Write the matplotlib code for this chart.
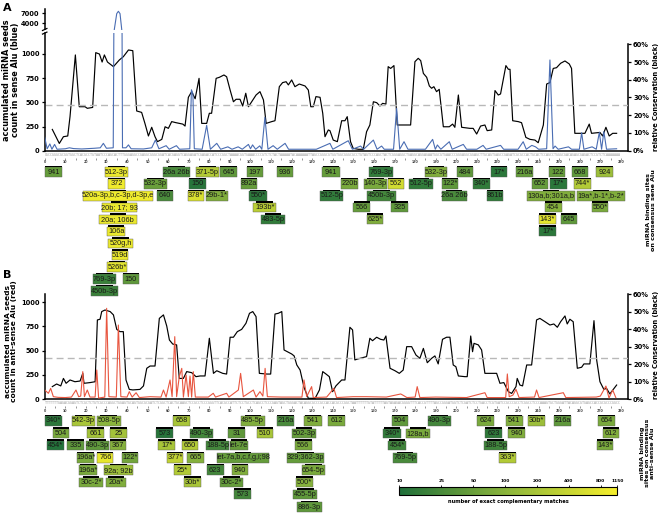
import matplotlib
matplotlib.use("Agg")
import matplotlib.pyplot as plt
from matplotlib.cm import ScalarMappable
from matplotlib.colors import LinearSegmentedColormap, LogNorm
from matplotlib.lines import Line2D
from matplotlib.patches import Rectangle
from matplotlib.ticker import NullLocator

plt.rcParams["font.family"] = ["DejaVu Sans"]
plt.rcParams["font.weight"] = "bold"

# ---------------------------------------------------------------- data
ALU_SENSE = ("GGCCGGGCGCGGTGGCTCACGCCTGTAATCCCAGCACTTTGGGAGGCCGAGGCGGGCGGATCACGAGGTCAGGAG"
             "ATCGAGACCATCCCGGCTAAAACGGTGAAACCCCGTCTCTACTAAAAATACAAAAAATTAGCCGGGCGTGGTGG"
             "CGGGCGCCTGTAGTCCCAGCTACTCGGGAGGCTGAGGCAGGAGAATGGCGTGAACCCGGGAGGCGGAGCTTGCAG"
             "TGAGCCGAGATCGCGCCACTGCACTCCAGCCTGGGCGACAGAGCGAGACTCCGTCTCAAAAAAA")

# panel A: conservation (%) along consensus sense Alu
A_CONS_POS = [3.7, 7.1, 9.1, 11.2, 12.3, 14.9, 16.8, 19.6, 20.7, 23.3, 24.8, 26.6, 27.9, 29.0,
              30.5, 33.4, 36.3, 38.2, 40.7, 42.8, 44.7, 47.1, 48.7, 50.4, 52.0, 53.6, 54.8, 56.9,
              58.5, 60.1, 61.7, 63.8, 67.1, 68.2, 69.8, 71.4, 73.1, 75.0, 76.3, 78.7, 80.0, 81.1,
              83.3, 84.9, 87.1, 88.4, 90.1, 91.7, 93.0, 94.9, 96.2, 97.7, 99.0, 101.1, 102.7,
              104.6, 106.3, 107.6, 110.3, 111.9, 114.0, 115.6, 117.3, 118.4, 120.0, 121.6, 123.7,
              126.5, 128.1, 129.3, 130.5, 131.8, 133.8, 135.1, 136.2, 137.8, 138.6, 140.2, 142.2,
              144.3, 145.9, 147.0, 148.6, 149.9, 152.4, 154.8, 156.4, 158.0, 159.7, 161.3, 162.9,
              164.2, 165.8, 166.9, 168.1, 169.7, 171.3, 177.8, 179.9, 181.5, 182.7, 184.0, 185.6,
              186.9, 188.0, 189.1, 190.4, 191.7, 193.7, 196.6, 198.2, 199.3, 201.0, 202.6, 206.6,
              208.2, 209.9, 211.8, 213.9, 215.0, 217.2, 218.8, 220.4, 221.5, 224.1, 225.3, 226.1,
              227.4, 230.1, 231.7, 233.8, 235.8, 238.2, 239.8, 242.3, 243.9, 245.5, 247.1, 248.7,
              250.7, 252.8, 254.9, 256.0, 257.6, 262.5, 264.6, 265.7, 269.8, 271.1, 272.7, 274.3,
              276.0, 277.9]
A_CONS_VAL = [12.0, 4.1, 7.9, 8.3, 19.2, 54.0, 24.8, 24.8, 23.9, 24.4, 55.3, 54.5, 50.0, 54.0,
              50.0, 47.4, 51.2, 53.0, 56.8, 56.4, 22.4, 21.6, 15.4, 8.3, 13.2, 7.9, 5.1, 6.4,
              13.5, 12.6, 16.4, 15.8, 15.0, 13.9, 30.1, 33.3, 29.3, 40.8, 15.4, 15.4, 21.1, 21.1,
              40.8, 41.4, 42.7, 41.7, 34.2, 27.6, 29.0, 29.0, 25.2, 32.4, 24.8, 28.6, 31.4,
              33.3, 28.6, 15.4, 16.4, 16.9, 36.1, 38.4, 38.9, 37.1, 39.9, 36.1, 37.6,
              36.5, 34.2, 24.8, 24.8, 30.5, 30.1, 21.1, 7.9, 11.7, 11.3, 6.0, 5.1,
              16.9, 16.9, 19.2, 5.1, 1.3, 0.8, 0.8, 10.7, 14.5, 27.6, 27.1, 25.2,
              26.7, 26.3, 47.4, 46.4, 48.0, 14.5, 14.5, 50.2, 52.1, 50.8, 43.6, 41.4,
              36.5, 35.2, 36.1, 33.3, 34.6, 13.5, 13.5, 15.0, 13.2, 31.4, 13.2, 12.6,
              12.6, 9.4, 13.9, 14.5, 11.3, 11.7, 33.9, 31.4, 32.0, 48.0, 45.9, 45.9,
              16.9, 16.4, 15.8, 7.5, 6.4, 6.0, 4.5, 14.5, 37.6, 38.4, 46.4, 46.8,
              49.3, 50.6, 48.9, 46.4, 9.8, 9.8, 15.0, 9.8, 10.3, 8.3, 13.2, 8.3,
              9.8, 9.8]

# panel A: accumulated miRNA seed count in sense Alu
A_SEED_POS = [0, 1.2, 2.5, 3.5, 4.8, 6, 10, 12, 14, 18, 24, 27, 28.5, 30, 33.3, 35.0, 35.8,
              36.6, 37.8, 39.5, 40.7, 42, 48, 52, 53.8, 55.5, 59, 60.5, 64, 65.5, 70.5, 71.3,
              72.0, 72.7, 76.5, 78.7, 80.5, 83.6, 85.5, 89, 91, 94, 96, 99, 100, 101, 102.5,
              104.5, 105.5, 107, 108.5, 111, 113, 116.8, 118.5, 125, 132, 138.6, 140, 147.5,
              149.5, 153.5, 155, 159.7, 161.5, 163.7, 165, 169.5, 171, 172.5, 174.6, 176.5, 185,
              188.5, 189.8, 190.8, 192.5, 196.6, 198, 203.4, 205, 210, 213, 214.5, 221.5, 223,
              230, 232.5, 234, 236.7, 238.5, 240, 243.9, 245.5, 247, 248, 249.5, 254.5, 256,
              259.8, 260.9, 262, 266, 268, 269.5, 270.6, 271.7, 273, 277.9]
A_SEED_VAL = [138, 20, 70, 15, 65, 15, 20, 30, 22, 18, 25, 30, 76, 25, 30, 6900, 7600,
              6900, 30, 30, 60, 20, 18, 30, 110, 20, 52, 15, 52, 15, 20, 630,
              590, 20, 15, 262, 15, 76, 15, 40, 15, 40, 15, 65, 20, 60, 15,
              50, 15, 345, 15, 52, 15, 76, 15, 15, 15, 76, 15, 103,
              15, 48, 15, 110, 15, 48, 15, 15, 438, 15, 93, 15, 15,
              117, 15, 59, 15, 93, 15, 65, 15, 15, 55, 15, 55, 15,
              15, 93, 15, 55, 40, 15, 20, 938, 20, 48, 15, 40, 15,
              15, 186, 15, 40, 15, 190, 15, 197, 15, 20]
A_MEAN = 476

# panel B: conservation (%) along consensus anti-sense Alu
B_CONS_POS = [3.7, 5.8, 7.8, 9.1, 10.4, 12.3, 14.7, 17.2, 18.5, 19.1, 22.0, 24.5, 25.6, 26.9,
              27.7, 29.3, 31.8, 33.4, 35.0, 36.6, 38.2, 39.5, 41.1, 42.8, 46.3, 48.0, 49.6, 51.2,
              53.6, 55.7, 57.7, 59.3, 60.6, 62.2, 64.1, 65.4, 67.4, 69.0, 71.4, 73.5, 75.5, 77.9,
              80.0, 82.0, 83.6, 86.5, 88.4, 90.1, 91.7, 93.6, 95.7, 97.8, 99.5, 101.1, 102.7,
              104.3, 107.9, 109.8, 111.9, 113.5, 115.2, 116.3, 117.9, 120.0, 121.2, 122.5, 124.1,
              126.0, 128.1, 131.4, 133.5, 135.1, 136.7, 138.3, 139.9, 141.5, 144.3, 145.9, 148.3,
              149.6, 150.7, 153.2, 156.4, 158.0, 159.3, 161.3, 163.2, 164.8, 165.8, 167.8, 170.2,
              172.3, 174.2, 175.9, 178.3, 180.4, 182.3, 184.0, 185.9, 188.0, 189.6, 191.2, 193.3,
              195.3, 196.9, 198.5, 199.8, 201.0, 204.2, 205.3, 207.0, 207.9, 208.6, 210.7, 212.3,
              213.9, 219.6, 221.2, 223.1, 225.3, 226.9, 229.0, 229.6, 230.9, 232.2, 234.2, 236.6,
              239.0, 240.6, 243.1, 245.5, 247.4, 249.1, 250.7, 252.8, 253.9, 255.2, 256.8, 258.8,
              260.9, 262.0, 264.9, 266.9, 268.2, 269.8, 271.7, 273.0, 274.6, 276.3, 277.9]
B_CONS_VAL = [7.1, 8.6, 7.5, 11.8, 9.0, 10.9, 9.9, 10.3, 14.7, 9.0, 9.4, 9.9, 45.3, 45.7,
              50.1, 51.0, 50.1, 48.2, 39.9, 38.6, 38.6, 10.9, 5.5, 5.2, 5.5, 7.5, 17.6, 18.9,
              18.9, 46.2, 48.2, 41.8, 33.8, 31.5, 31.0, 11.8, 11.8, 15.7, 15.1, 12.8, 13.2, 13.2,
              34.8, 14.7, 16.2, 14.7, 14.3, 35.4, 35.4, 38.6, 39.9, 43.4, 49.1, 50.1, 47.2,
              14.7, 14.3, 14.3, 48.7, 49.1, 50.1, 28.1, 27.1, 25.8, 24.7, 19.5, 16.6,
              6.7, 0.4, 0.4, 5.2, 15.7, 14.3, 12.8, 4.2, 7.5, 10.9, 10.9, 41.1,
              39.6, 22.4, 23.3, 24.3, 34.8, 33.4, 35.4, 34.2, 33.8, 36.1, 17.6, 16.2,
              14.7, 16.6, 30.0, 30.0, 25.2, 23.3, 29.0, 20.8, 23.3, 24.7, 20.1, 34.2,
              35.4, 35.4, 19.5, 18.5, 13.2, 12.8, 12.8, 36.1, 27.1, 31.9, 31.0, 28.1,
              14.7, 14.7, 9.0, 9.4, 4.2, 3.2, 7.1, 11.8, 8.0, 7.5, 19.5, 19.5,
              45.3, 46.2, 44.3, 42.4, 43.0, 41.1, 44.3, 47.6, 43.0, 45.7, 44.3, 17.6,
              18.2, 20.1, 20.1, 44.9, 22.4, 9.9, 5.5, 6.1, 2.9, 5.5, 8.0]

# panel B: accumulated miRNA seed count in anti-sense Alu
B_SEED_POS = [0, 1.8, 2.9, 4.2, 6.6, 10, 13, 15.2, 16.5, 17.5, 18.5, 19.3, 20.7, 22, 24.5,
              25.3, 26.2, 29.2, 30.1, 31.2, 34.8, 35.8, 37, 40, 41.1, 42.5, 44.4, 46, 51.2,
              56.5, 57.7, 59, 60.9, 61.9, 63.2, 64.1, 65.4, 66.6, 67.4, 68.7, 69.8, 70.6, 71.4,
              72.2, 73.2, 79.5, 81.9, 83, 88.4, 89.5, 94.1, 95.2, 96.5, 101.4, 102.7, 104.6, 106,
              107.1, 108.2, 115, 122, 125, 126, 127.3, 129.7, 130.5, 137, 140.5, 141.8, 149.9,
              156.4, 166, 173, 174.2, 176, 180, 181, 182.3, 190, 205, 213.9, 215, 224, 224.8,
              225.7, 227.5, 229, 230.5, 238, 239, 240.2, 252, 253.2, 268, 270, 272.7, 274.2,
              276, 277.5]
B_SEED_VAL = [93, 59, 110, 24, 17, 15, 20, 93, 24, 30, 283, 24, 93, 20, 20,
              300, 10, 20, 938, 24, 20, 765, 24, 20, 76, 20, 65, 15, 24,
              20, 93, 20, 197, 24, 645, 24, 231, 317, 20, 248, 24, 238, 20,
              283, 20, 20, 59, 20, 59, 20, 93, 265, 24, 93, 20, 76, 30,
              317, 24, 20, 20, 20, 197, 24, 128, 15, 20, 110, 15, 24,
              24, 20, 52, 38, 15, 20, 128, 15, 20, 15, 65, 15, 15, 259,
              24, 40, 100, 15, 20, 93, 15, 65, 15, 20, 30, 134, 10,
              93, 15]
B_MEAN = 427

# miRNA binding sites, panel A (sense)
A_SITE_LABELS = ["941", "512-3p", "26a 26b", "371-5p", "645", "197", "936", "941", "769-3p",
                 "532-3p", "484", "17*", "216a", "122", "668", "924",
                 "372", "532-3p", "150", "892a", "220b", "140-3p", "562", "512-5p", "122*",
                 "340*", "652", "17*", "744*",
                 "520a-3p,b,c-3p,d-3p,e", "640", "378*", "29b-1*", "550*", "512-5p", "450b-3p",
                 "26a 26b", "861b", "130a,b;301a,b", "19a*,b-1*,b-2*",
                 "20b; 17; 93", "193b*", "566", "325", "454", "550*",
                 "20a; 106b", "483-5p", "625*", "143*", "645",
                 "106a", "17*", "520g,h", "519d", "526b*", "769-3p", "150", "450b-3p"]
A_SITE_ROWS = [1] * 16 + [2] * 13 + [3] * 11 + [4] * 6 + [5] * 5 + [6, 6, 7, 8, 9, 10, 10, 11]
A_SITE_START = [0.2, 29.3, 57.6, 73.5, 85.2, 98.2, 112.7, 134.7, 157.7, 184.8, 200.2, 216.7,
                229.0, 245.2, 256.4, 267.9,
                30.9, 48.3, 70.3, 95.2, 144.0, 155.2, 167.0, 177.2, 192.9, 208.3, 236.6, 245.5,
                257.2,
                18.5, 54.7, 69.5, 78.2, 99.4, 133.8, 156.8, 192.9, 214.8, 234.5, 258.8,
                27.7, 101.4, 150.0, 168.3, 243.1, 265.8,
                26.4, 105.1, 156.5, 240.3, 250.7,
                30.4, 240.3, 30.9, 32.6, 30.4, 23.3, 37.9, 22.4]
A_SITE_END = [8.3, 40.5, 70.6, 84.5, 93.3, 106.2, 120.8, 143.5, 169.4, 195.3, 208.3, 224.5,
              237.1, 252.8, 264.1, 276.3,
              39.0, 59.3, 78.4, 103.3, 152.1, 166.2, 174.6, 188.5, 201.0, 216.4, 244.7, 253.6,
              265.3,
              52.8, 62.5, 77.4, 89.2, 107.9, 145.1, 170.7, 205.0, 222.8, 257.7, 282.0,
              44.7, 112.4, 158.1, 176.4, 251.2, 273.9,
              44.7, 116.8, 164.5, 248.4, 258.8,
              39.0, 248.4, 42.8, 40.6, 40.1, 34.6, 46.0, 35.8]
A_SITE_COUNTS = [45, 900, 25, 250, 40, 45, 45, 45, 15, 80, 40, 13, 45, 45, 40, 150,
                 1000, 50, 12, 45, 70, 70, 500, 15, 40, 15, 45, 13, 250,
                 1000, 25, 600, 80, 13, 15, 22, 25, 15, 80, 80,
                 900, 300, 45, 40, 90, 70,
                 900, 15, 80, 800, 40,
                 900, 13, 900, 900, 700, 18, 40, 18]

# miRNA binding sites, panel B (anti-sense)
B_SITE_LABELS = ["340*", "542-3p", "508-5p", "658", "485-5p", "216a", "541", "612", "504",
                 "490-3p", "624", "541", "30b*", "216a", "654",
                 "504", "661", "25", "573", "490-3p", "31", "510", "502-3p", "340*", "128a,b",
                 "623", "940", "612",
                 "454*", "335", "490-3p", "367", "17*", "650", "188-5p", "let-7e", "566", "454*",
                 "188-5p", "143*",
                 "196a*", "766", "122*", "377*", "665", "let-7a,b,c,f,g,i;98", "329;362-3p",
                 "769-5p", "363*",
                 "196a*", "92a; 92b", "25*", "623", "940", "654-5p",
                 "30c-2*", "20a*", "30b*", "30c-2*", "500*",
                 "573", "455-5p", "886-3p"]
B_SITE_ROWS = [1] * 15 + [2] * 13 + [3] * 12 + [4] * 9 + [5] * 6 + [6] * 5 + [7, 7, 8]
B_SITE_START = [0.0, 13.1, 25.3, 62.5, 95.2, 113.0, 126.0, 137.7, 168.6, 186.4, 209.9, 224.0,
                234.7, 247.5, 269.0,
                3.9, 20.7, 31.7, 54.1, 70.6, 89.2, 103.0, 120.3, 164.5, 175.6, 213.9, 225.3,
                271.1,
                1.0, 10.7, 20.1, 31.7, 55.2, 66.6, 78.4, 90.0, 121.6, 167.0, 213.5, 268.2,
                15.8, 25.6, 37.4, 59.3, 69.3, 83.6, 117.9, 169.1, 220.9,
                16.8, 28.8, 62.8, 78.7, 90.9, 124.9,
                16.8, 29.8, 67.7, 85.2, 122.1,
                92.0, 120.8, 122.7]
B_SITE_END = [8.3, 24.4, 36.9, 70.6, 107.0, 121.1, 134.6, 145.9, 176.7, 197.3, 218.3, 232.3,
              243.1, 255.6, 277.1,
              12.0, 28.8, 39.8, 62.5, 81.9, 97.3, 111.1, 131.8, 173.0, 187.2, 222.1, 233.4,
              279.2,
              9.4, 19.1, 31.4, 39.5, 63.3, 74.6, 89.7, 98.9, 129.7, 175.6, 224.8, 276.3,
              24.0, 33.3, 45.5, 67.3, 77.4, 109.1, 135.7, 180.8, 229.0,
              25.3, 42.8, 70.9, 87.1, 98.9, 136.2,
              28.2, 39.5, 75.8, 96.2, 130.2,
              100.1, 132.5, 134.6]
B_SITE_COUNTS = [13, 200, 100, 200, 80, 25, 80, 70, 40, 22, 70, 80, 150, 40, 70,
                 70, 180, 180, 12, 22, 40, 200, 45, 15, 70, 14, 80, 80,
                 11, 40, 40, 90, 200, 250, 22, 45, 70, 20, 20, 70,
                 70, 800, 60, 350, 90, 45, 45, 25, 250,
                 70, 150, 250, 22, 80, 70,
                 70, 80, 200, 45, 90,
                 22, 40, 40]

CB_TICKS = [10, 25, 50, 100, 200, 400, 800, 1150]

# ---------------------------------------------------------------- layout
W, H = 661, 513
X0, X1 = 44.7, 627.7
XMAX = (X1 - X0) / 2.058
BLUE = "#4a6db3"
RED = "#e8553f"
CMAP = LinearSegmentedColormap.from_list("matches", ["#1f6f3a", "#8db63c", "#f5ee2c"])
NORM = LogNorm(vmin=10, vmax=1150)
BOX_FONT = ["Liberation Sans Narrow", "Liberation Sans", "DejaVu Sans"]

fig = plt.figure(figsize=(W / 100, H / 100), dpi=100)


def px_rect(x0, y0, x1, y1):
    return [x0 / W, 1 - y1 / H, (x1 - x0) / W, (y1 - y0) / H]


def style_left(ax, ticks, labels=None):
    for side in ("top", "right"):
        ax.spines[side].set_visible(False)
    ax.spines["left"].set_linewidth(1.1)
    ax.spines["bottom"].set_linewidth(1.1)
    ax.set_yticks(ticks)
    if labels is not None:
        ax.set_yticklabels(labels)
    ax.tick_params(axis="y", length=2.4, width=0.9, pad=1.5, labelsize=4.8)
    ax.set_xticks([])


def style_right(ax, ymax):
    for side in ("top", "left", "bottom"):
        ax.spines[side].set_visible(False)
    ax.spines["right"].set_linewidth(1.1)
    ax.spines["right"].set_bounds(0, 60)
    ax.set_ylim(0, ymax)
    ax.set_yticks(range(0, 61, 10))
    ax.set_yticklabels([f"{v}%" for v in range(0, 61, 10)])
    ax.tick_params(axis="y", length=2.4, width=0.9, pad=1.5, labelsize=4.8)


def draw_ruler(top, seq):
    ax = fig.add_axes(px_rect(X0, top, X1, top + 5.5))
    ax.set_xlim(0, XMAX)
    ax.set_ylim(0, 1)
    for s in ax.spines.values():
        s.set_visible(False)
    ax.set_yticks([])
    ticks = list(range(0, 285, 5))
    ax.set_xticks(ticks)
    ax.set_xticklabels([str(t) if t % 10 == 0 else "" for t in ticks])
    ax.tick_params(axis="x", length=1.3, width=0.4, pad=0.5, labelsize=2.3, colors="#444444")
    ax.text(0, 0.55, seq, family="DejaVu Sans Mono", fontweight="normal",
            fontsize=2.058 / 0.602 * 0.72, color="#9a9a9a", ha="left", va="center")


def draw_sites(top, pitch, nrows, labels, rows, starts, ends, counts):
    ax = fig.add_axes(px_rect(X0, top, X1, top + pitch * nrows))
    ax.set_xlim(0, XMAX)
    ax.set_ylim(nrows, 0)
    ax.axis("off")
    h = 9.5 / pitch
    bar = 1.5 / pitch
    for lab, r, s, e, c in zip(labels, rows, starts, ends, counts):
        y0 = r - 0.5 - h / 2
        ax.add_patch(Rectangle((s, y0), e - s, h, facecolor=CMAP(NORM(c)),
                               edgecolor="#5a5a5a", lw=0.3, clip_on=False))
        mid = (s + e) / 2
        hw = min(4.0, (e - s) / 2)
        ax.add_patch(Rectangle((mid - hw, y0 - bar), 2 * hw, bar, facecolor="black",
                               lw=0, clip_on=False))
        ax.text(mid, r - 0.5, lab, ha="center", va="center", fontsize=5.3, family=BOX_FONT,
                fontweight="normal", color="#1a1a1a", clip_on=False)


def break_marks(x, y):
    for dy in (-1.8, 1.8):
        fig.add_artist(Line2D([(x - 2.2) / W, (x + 2.2) / W],
                              [1 - (y + dy + 1.0) / H, 1 - (y + dy - 1.0) / H],
                              color="black", lw=0.9))


# ---------------------------------------------------------------- panel A
axA = fig.add_axes(px_rect(X0, 33, X1, 150.7))
axA.set_xlim(0, XMAX)
axA.set_ylim(0, 1217)
axA.axhline(A_MEAN, color="#b8b8b8", lw=1.0, dashes=(5, 3), zorder=1)
axA.plot(A_SEED_POS, A_SEED_VAL, color=BLUE, lw=0.8, zorder=3)
style_left(axA, [0, 250, 500, 750, 1000])
axA2 = axA.twinx()
axA2.plot(A_CONS_POS, A_CONS_VAL, color="black", lw=0.85)
style_right(axA2, 60 * (150.7 - 33) / 106.4)
axA.set_zorder(axA2.get_zorder() + 1)
axA.patch.set_visible(False)

axAt = fig.add_axes(px_rect(X0, 9.3, X1, 29.5))
axAt.set_xlim(0, XMAX)
axAt.set_ylim(2140, 8200)
axAt.plot(A_SEED_POS, A_SEED_VAL, color=BLUE, lw=0.8)
style_left(axAt, [4000, 7000])
axAt.spines["bottom"].set_visible(False)
axAt.patch.set_visible(False)
break_marks(X0, 31.3)

draw_ruler(152.3, ALU_SENSE)
draw_sites(172 - 11.9 / 2, 11.9, 11, A_SITE_LABELS, A_SITE_ROWS, A_SITE_START, A_SITE_END,
           A_SITE_COUNTS)

# ---------------------------------------------------------------- panel B
axB = fig.add_axes(px_rect(X0, 294.3, X1, 399))
axB.set_xlim(0, XMAX)
axB.set_ylim(0, 1083)
axB.axhline(B_MEAN, color="#b8b8b8", lw=1.0, dashes=(5, 3), zorder=1)
axB.plot(B_SEED_POS, B_SEED_VAL, color=RED, lw=0.8, zorder=3)
style_left(axB, [0, 250, 500, 750, 1000])
axB2 = axB.twinx()
axB2.plot(B_CONS_POS, B_CONS_VAL, color="black", lw=0.85)
style_right(axB2, 60)
axB.set_zorder(axB2.get_zorder() + 1)
axB.patch.set_visible(False)

comp = {"A": "T", "T": "A", "G": "C", "C": "G"}
draw_ruler(400.5, "".join(comp[b] for b in reversed(ALU_SENSE)))
draw_sites(421 - 12.29 / 2, 12.29, 8, B_SITE_LABELS, B_SITE_ROWS, B_SITE_START, B_SITE_END,
           B_SITE_COUNTS)

# ---------------------------------------------------------------- colour bar
cax = fig.add_axes(px_rect(399.3, 486.7, 617.3, 495))
cb = fig.colorbar(ScalarMappable(norm=NORM, cmap=CMAP), cax=cax, orientation="horizontal")
cb.set_ticks(CB_TICKS)
cb.set_ticklabels([str(t) for t in CB_TICKS])
cax.xaxis.set_minor_locator(NullLocator())
cax.xaxis.set_ticks_position("top")
cax.tick_params(axis="x", length=1.8, width=0.6, pad=1.0, labelsize=3.2)
cb.outline.set_linewidth(0.8)

# ---------------------------------------------------------------- texts
def ftext(x, y, s, **kw):
    fig.text(x / W, 1 - y / H, s, **kw)


ftext(3, 3, "A", fontsize=8, ha="left", va="top")
ftext(3, 270, "B", fontsize=8, ha="left", va="top")
ftext(11, 80, "accumulated miRNA seeds\ncount in sense Alu (blue)", rotation=90,
      ha="center", va="center", fontsize=5.9, linespacing=1.0)
ftext(11, 341, "accumulated miRNA seeds\ncount in anti-sense Alu (red)", rotation=90,
      ha="center", va="center", fontsize=5.4, linespacing=1.05)
ftext(656, 97, "relative Conservation (black)", rotation=90, ha="center", va="center",
      fontsize=4.8)
ftext(656, 345, "relative Conservation (black)", rotation=90, ha="center", va="center",
      fontsize=4.8)
ftext(651, 210, "miRNA binding sites\non consensus sene Alu", rotation=90, ha="center",
      va="center", fontsize=4.6, linespacing=1.05)
ftext(647.5, 453, "miRNA binding\nsites on consensus\nanti-sense Alu", rotation=90,
      ha="center", va="center", fontsize=4.6, linespacing=1.05)
ftext(508, 501, "number of exact complementary matches", ha="center", va="center",
      fontsize=3.7)

fig.savefig("out.png", dpi=100)
